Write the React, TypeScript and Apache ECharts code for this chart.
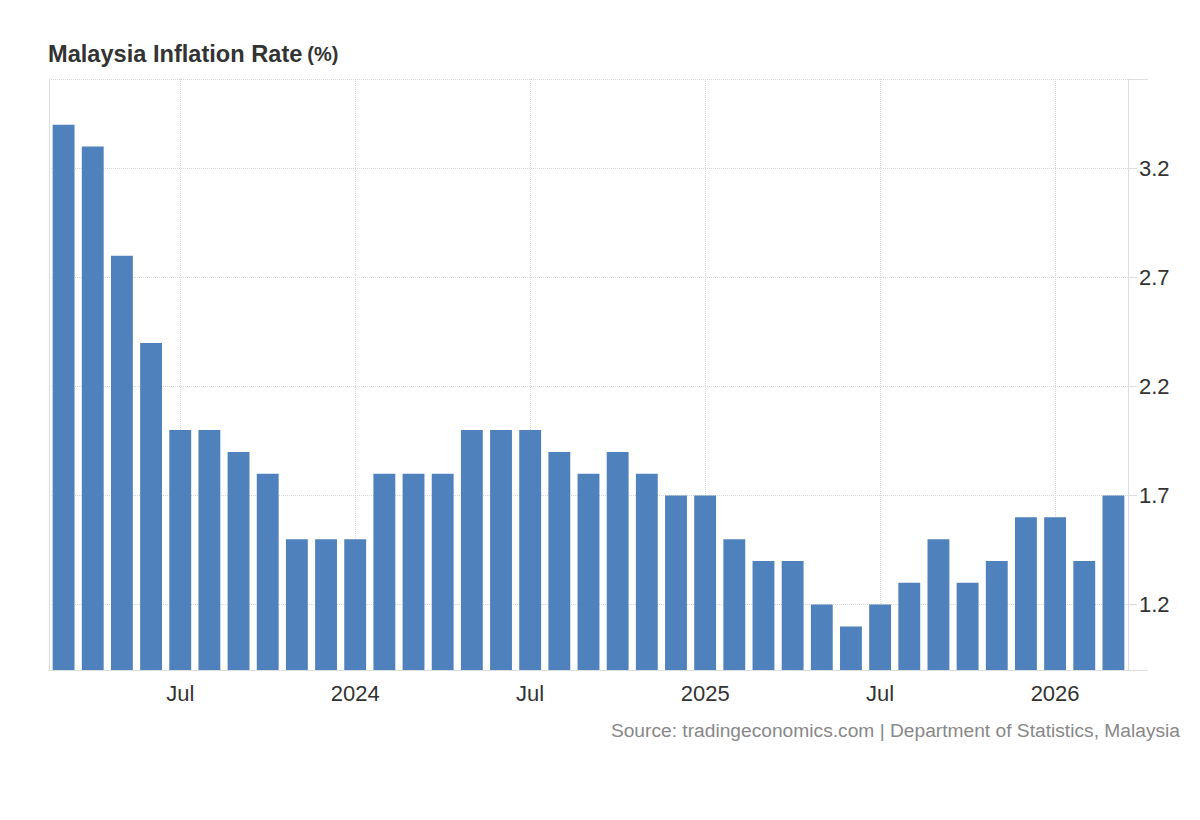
import React, { useEffect, useRef } from 'react';
import * as echarts from 'echarts';

const months = [
  'Mar 2023', 'Apr 2023', 'May 2023', 'Jun 2023', 'Jul 2023', 'Aug 2023', 'Sep 2023', 'Oct 2023', 'Nov 2023', 'Dec 2023',
  'Jan 2024', 'Feb 2024', 'Mar 2024', 'Apr 2024', 'May 2024', 'Jun 2024', 'Jul 2024', 'Aug 2024', 'Sep 2024', 'Oct 2024', 'Nov 2024', 'Dec 2024',
  'Jan 2025', 'Feb 2025', 'Mar 2025', 'Apr 2025', 'May 2025', 'Jun 2025', 'Jul 2025', 'Aug 2025', 'Sep 2025', 'Oct 2025', 'Nov 2025', 'Dec 2025',
  'Jan 2026', 'Feb 2026', 'Mar 2026',
];

const inflationRate = [
  3.4, 3.3, 2.8, 2.4, 2.0, 2.0, 1.9, 1.8, 1.5, 1.5,
  1.5, 1.8, 1.8, 1.8, 2.0, 2.0, 2.0, 1.9, 1.8, 1.9, 1.8, 1.7,
  1.7, 1.5, 1.4, 1.4, 1.2, 1.1, 1.2, 1.3, 1.5, 1.3, 1.4, 1.6,
  1.6, 1.4, 1.7,
];

const yTickLabels = [1.2, 1.7, 2.2, 2.7, 3.2];
const yMin = 0.9;
const yMax = 3.61;

const FONT = 'Helvetica, Arial, "Liberation Sans", sans-serif';

const GRID = { left: 49, right: 72, top: 79, bottom: 150 };
const W = 1200;
const H = 820;

const isMarker = (i: number) => months[i].startsWith('Jan') || months[i].startsWith('Jul');

export default function App() {
  const ref = useRef<HTMLDivElement>(null);

  useEffect(() => {
    document.body.style.margin = '0';
    if (!ref.current) return;
    const chart = echarts.init(ref.current, undefined, { renderer: 'svg' });
    const axisX = W - GRID.right;
    const bottomY = H - GRID.bottom;
    chart.setOption({
      animation: false,
      backgroundColor: '#ffffff',
      textStyle: { fontFamily: FONT },
      title: [
        {
          text: '{a|Malaysia Inflation Rate} {b|(%)}',
          left: 48,
          top: 42,
          padding: 0,
          textStyle: {
            rich: {
              a: { fontSize: 23.6, fontWeight: 'bold', color: '#333333', fontFamily: FONT },
              b: { fontSize: 20, fontWeight: 'bold', color: '#333333', fontFamily: FONT },
            },
          },
        },
        {
          text: 'Source: tradingeconomics.com | Department of Statistics, Malaysia',
          right: 20,
          top: 721,
          padding: 0,
          textStyle: { fontSize: 19.2, fontWeight: 'normal', color: '#888888', fontFamily: FONT },
        },
      ],
      grid: { ...GRID, containLabel: false },
      graphic: [
        {
          type: 'line',
          silent: true,
          shape: { x1: axisX, y1: GRID.top + 0.5, x2: axisX + 20, y2: GRID.top + 0.5 },
          style: { stroke: '#dddddd', lineWidth: 1 },
        },
        {
          type: 'line',
          silent: true,
          shape: { x1: axisX, y1: bottomY + 0.5, x2: axisX + 20, y2: bottomY + 0.5 },
          style: { stroke: '#dddddd', lineWidth: 1 },
        },
      ],
      xAxis: {
        type: 'category',
        data: months,
        boundaryGap: true,
        axisLine: { show: true, lineStyle: { color: '#dddddd', width: 1 } },
        axisTick: { show: false },
        axisLabel: {
          interval: (i: number) => isMarker(i),
          formatter: (v: string) => (v.startsWith('Jan') ? v.slice(4) : v.slice(0, 3)),
          color: '#333333',
          fontSize: 22,
          margin: 12,
          fontFamily: FONT,
        },
        splitLine: {
          show: true,
          interval: (i: number) => isMarker(i),
          alignWithLabel: true,
          lineStyle: { type: 'dotted', color: '#d6d6d6', width: 1 },
        },
      },
      yAxis: [
        {
          type: 'value',
          position: 'right',
          min: yMin,
          max: yMax,
          axisLine: { show: true, lineStyle: { color: '#dddddd', width: 1 } },
          axisTick: {
            show: true,
            customValues: [yMin, ...yTickLabels, yMax],
            length: 9,
            lineStyle: { color: '#dddddd' },
          },
          axisLabel: {
            customValues: yTickLabels,
            formatter: (v: number) => v.toFixed(1),
            color: '#333333',
            fontSize: 22,
            margin: 11,
            fontFamily: FONT,
          },
          splitLine: { show: true, lineStyle: { type: 'dotted', color: '#d6d6d6', width: 1 } },
        },
        {
          type: 'value',
          position: 'left',
          min: yMin,
          max: yMax,
          axisLine: { show: true, lineStyle: { color: '#dddddd', width: 1 } },
          axisTick: { show: false },
          axisLabel: { show: false },
          splitLine: { show: false },
        },
      ],
      series: [
        {
          type: 'bar',
          data: inflationRate,
          yAxisIndex: 0,
          barCategoryGap: '25%',
          itemStyle: { color: '#4f81bd' },
          silent: true,
        },
      ],
    });
    return () => chart.dispose();
  }, []);

  return <div ref={ref} style={{ width: W, height: H }} />;
}
